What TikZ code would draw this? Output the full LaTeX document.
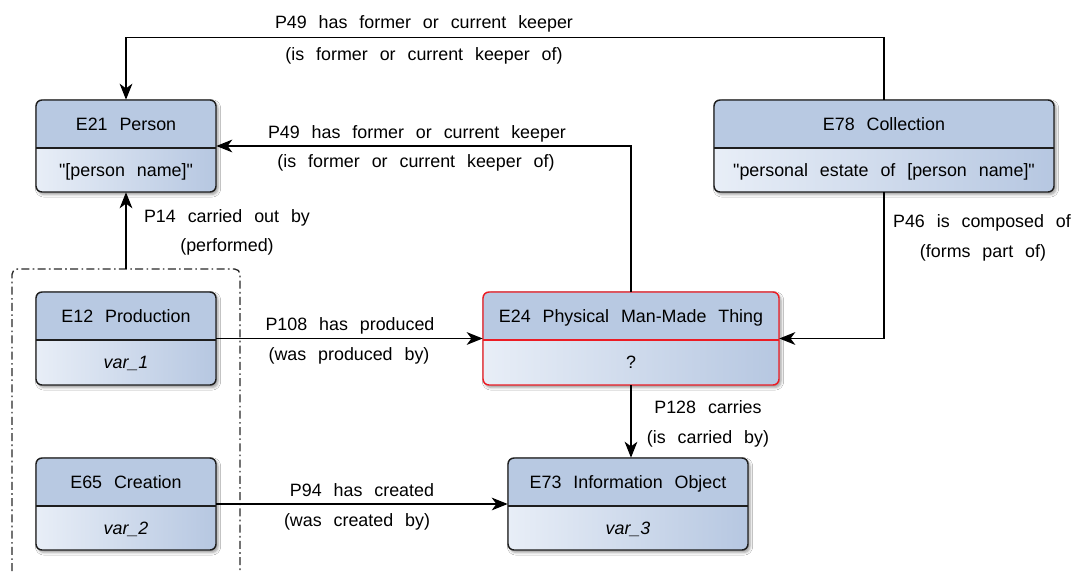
\documentclass[tikz,border=0pt]{standalone}
\usepackage{fontspec}
\setmainfont{Liberation Sans}[WordSpace=2.4]
\usetikzlibrary{arrows.meta,calc,fit,shadows.blur}

\definecolor{topfill}{RGB}{184,201,226}
\definecolor{botL}{RGB}{232,238,247}
\definecolor{botR}{RGB}{182,199,225}
\definecolor{edge}{RGB}{30,30,30}
\definecolor{redge}{RGB}{236,28,36}
\definecolor{grpc}{RGB}{40,40,40}

\tikzset{
  arr/.style={-{Stealth[length=12pt,width=9.5pt,inset=3.5pt]}, line width=1.1pt, draw=black},
  lbl/.style={inner sep=0pt, anchor=base},
  boxtext/.style={inner sep=0pt, anchor=base},
  grpline/.style={draw=grpc, line width=1pt, dash pattern=on 6pt off 2.5pt on 1.2pt off 2.5pt},
}

% #1 name, #2 left, #3 top, #4 right, #5 divider, #6 bottom, #7 title, #8 value, #9 border colour
\newcommand\entity[9]{%
  \path[rounded corners=4.5pt, blur shadow={shadow xshift=1.5pt, shadow yshift=-1.8pt, shadow blur radius=2pt, shadow opacity=40}] (#2,#3) rectangle (#4,#6);
  \begin{scope}
    \clip[rounded corners=4.5pt] (#2,#3) rectangle (#4,#6);
    \fill[topfill] (#2,#3) rectangle (#4,#5);
    \shade[left color=botL, right color=botR] (#2,#5) rectangle (#4,#6);
  \end{scope}
  \draw[#9, line width=1.1pt, rounded corners=4.5pt] (#2,#3) rectangle (#4,#6);
  \draw[#9, line width=1.1pt] (#2,#5) -- (#4,#5);
  \node[fit={(#2,#3) (#4,#6)}, inner sep=0pt] (#1) {};
  \node[boxtext] (#1t) at ($(#2,#3)!.5!(#4,#5)+(0,6.3)$) {#7};
  \node[boxtext] (#1v) at ($(#2,#5)!.5!(#4,#6)+(0,6.3)$) {#8};
}
\newcommand\lbl[4]{\node[lbl] (#1) at (#2,#3+6.3) {#4};}

\begin{document}
\begin{tikzpicture}[x=0.75pt, y=-0.75pt, font=\fontsize{13.4}{16}\selectfont]
\useasboundingbox (0,0) rectangle (1074,571);
\clip (0,0) rectangle (1074,571);
\fill[white] (0,0) rectangle (1074,571);

% group frame (open at the bottom)
\draw[grpline, rounded corners=4pt] (12,620) -- (12,269) -- (240,269) -- (240,620);
\node[fit={(12,269) (240,620)}, inner sep=0pt] (grp) {};

\entity{e21}{36}{100}{216}{148}{192}{E21 Person}{\textquotedbl[person name]\textquotedbl}{edge}
\entity{e78}{714}{100}{1054}{148}{192}{E78 Collection}{\textquotedbl personal estate of [person name]\textquotedbl}{edge}
\entity{e12}{36}{292}{216}{340}{385}{E12 Production}{\itshape var\_1}{edge}
\entity{e24}{483}{292}{779}{340}{385}{E24 Physical Man-Made Thing}{?}{redge}
\entity{e65}{36}{458}{216}{506}{550}{E65 Creation}{\itshape var\_2}{edge}
\entity{e73}{508}{458}{748}{506}{550}{E73 Information Object}{\itshape var\_3}{edge}

% connectors
\draw[arr] (e78.north) -- ++(0,-62) -| (e21.north);
\draw[arr] (e24.north) |- (e21.east);
\draw[arr] (grp.north) -- (e21.south);
\draw[arr] (e12.east) -- (e24.west);
\draw[arr] (e78.south) |- (e24.east);
\draw[arr] (e24.south) -- (e24.south |- e73.north);
\draw[arr] (e65.east) -- (e73.west);

% labels
\lbl{l1a}{424}{22}{P49 has former or current keeper}
\lbl{l1b}{424}{54}{(is former or current keeper of)}
\lbl{l2a}{417}{132}{P49 has former or current keeper}
\lbl{l2b}{416}{161}{(is former or current keeper of)}
\lbl{l3a}{227}{216}{P14 carried out by}
\lbl{l3b}{227}{245}{(performed)}
\lbl{l4a}{350}{324}{P108 has produced}
\lbl{l4b}{349}{354}{(was produced by)}
\lbl{l5a}{982}{221}{P46 is composed of}
\lbl{l5b}{983}{251}{(forms part of)}
\lbl{l6a}{708}{407}{P128 carries}
\lbl{l6b}{708}{437}{(is carried by)}
\lbl{l7a}{362}{490}{P94 has created}
\lbl{l7b}{357}{520}{(was created by)}
\end{tikzpicture}
\end{document}
